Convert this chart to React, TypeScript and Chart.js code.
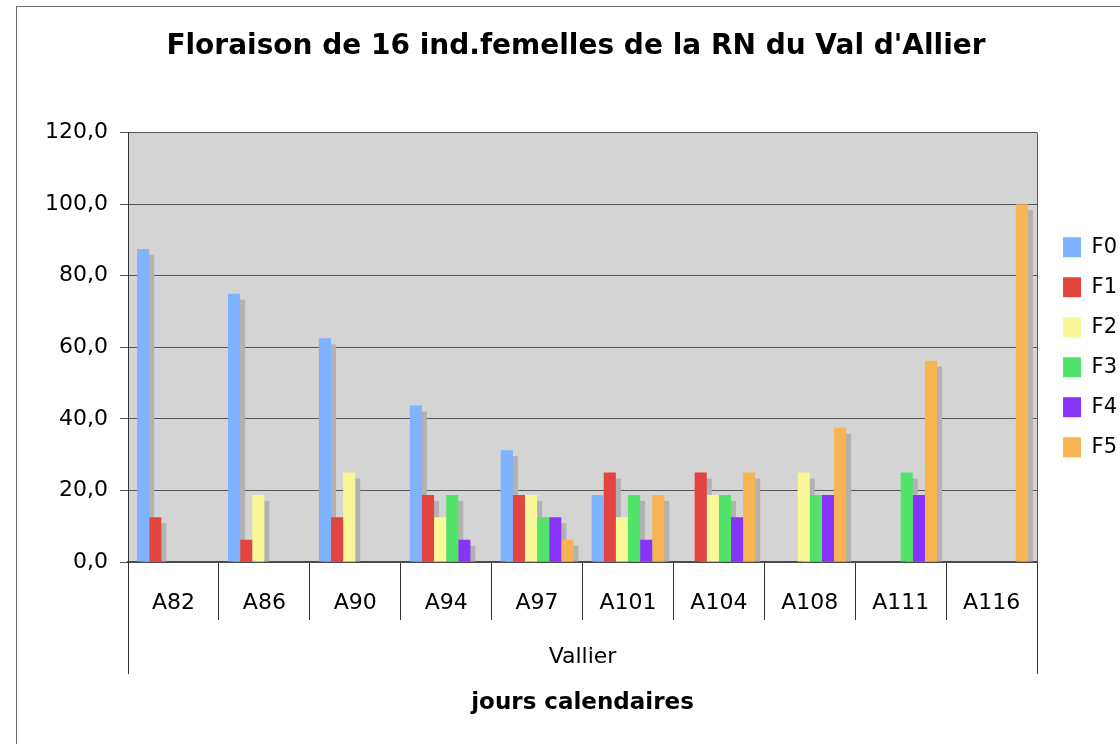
import React, { useEffect, useRef } from "react";
import { Chart, registerables } from "chart.js";

Chart.register(...registerables);

const categories = ["A82", "A86", "A90", "A94", "A97", "A101", "A104", "A108", "A111", "A116"];
const seriesNames = ["F0", "F1", "F2", "F3", "F4", "F5"];
const F0 = [87.5, 75, 62.5, 43.75, 31.25, 18.75, 0, 0, 0, 0];
const F1 = [12.5, 6.25, 12.5, 18.75, 18.75, 25, 25, 0, 0, 0];
const F2 = [0, 18.75, 25, 12.5, 18.75, 12.5, 18.75, 25, 0, 0];
const F3 = [0, 0, 0, 18.75, 12.5, 18.75, 18.75, 18.75, 25, 0];
const F4 = [0, 0, 0, 6.25, 12.5, 6.25, 12.5, 18.75, 18.75, 0];
const F5 = [0, 0, 0, 0, 6.25, 18.75, 25, 37.5, 56.25, 100];
const seriesValues = [F0, F1, F2, F3, F4, F5];
const seriesColors = ["#7fb2ff", "#e2453f", "#f8f899", "#52e46a", "#8733f8", "#f8b452"];
const yMin = 0;
const yMax = 120;
const yStep = 20;
const chartTitle = "Floraison de 16 ind.femelles de la RN du Val d'Allier";
const groupLabel = "Vallier";
const xAxisTitle = "jours calendaires";

const FONT = "'DejaVu Sans', Verdana, sans-serif";

const decorPlugin = {
  id: "decor",
  afterLayout(chart: any) {
    const lg = chart.legend;
    if (lg) {
      lg.left += 7;
      lg.right += 7;
    }
  },
  beforeDraw(chart: any) {
    const { ctx, chartArea: a } = chart;
    ctx.save();
    ctx.fillStyle = "#ffffff";
    ctx.fillRect(0, 0, chart.width, chart.height);
    ctx.strokeStyle = "#6e6e6e";
    ctx.lineWidth = 1;
    ctx.strokeRect(16.5, 6.5, chart.width + 50, chart.height + 50);
    ctx.fillStyle = "#d4d4d4";
    ctx.fillRect(a.left, a.top, a.right - a.left, a.bottom - a.top);
    ctx.restore();
  },
  beforeDatasetsDraw(chart: any) {
    const { ctx, chartArea: a } = chart;
    ctx.save();
    ctx.beginPath();
    ctx.rect(a.left, a.top, a.right - a.left, a.bottom - a.top);
    ctx.clip();
    ctx.fillStyle = "#b2b2b2";
    chart.data.datasets.forEach((ds: any, i: number) => {
      const meta = chart.getDatasetMeta(i);
      meta.data.forEach((bar: any, j: number) => {
        const v = ds.data[j];
        if (!v) return;
        const p = bar.getProps(["x", "y", "base", "width"], true);
        const top = p.y + 6;
        ctx.fillRect(p.x - p.width / 2 + 5, top, p.width, p.base - top);
      });
    });
    ctx.restore();
  },
  afterDraw(chart: any) {
    const { ctx, chartArea: a } = chart;
    ctx.save();
    ctx.strokeStyle = "#5a5a5a";
    ctx.lineWidth = 1;
    ctx.beginPath();
    ctx.moveTo(Math.round(a.right) + 0.5, a.top);
    ctx.lineTo(Math.round(a.right) + 0.5, a.bottom);
    ctx.stroke();
    ctx.strokeStyle = "#333333";
    ctx.beginPath();
    ctx.moveTo(Math.round(a.left) + 0.5, a.bottom + 58);
    ctx.lineTo(Math.round(a.left) + 0.5, a.bottom + 112);
    ctx.moveTo(Math.round(a.right) + 0.5, a.bottom + 58);
    ctx.lineTo(Math.round(a.right) + 0.5, a.bottom + 112);
    ctx.stroke();
    ctx.fillStyle = "#000000";
    ctx.font = `22px ${FONT}`;
    ctx.textAlign = "center";
    ctx.textBaseline = "middle";
    ctx.fillText(groupLabel, (a.left + a.right) / 2, a.bottom + 95);
    ctx.restore();
  },
};

export default function App() {
  const canvasRef = useRef<HTMLCanvasElement | null>(null);

  useEffect(() => {
    const canvas = canvasRef.current;
    if (!canvas) return;
    const chart = new Chart(canvas, {
      type: "bar",
      data: {
        labels: categories,
        datasets: seriesNames.map((name, i) => ({
          label: name,
          data: seriesValues[i],
          backgroundColor: seriesColors[i],
          borderWidth: 0,
          categoryPercentage: 0.8,
          barPercentage: 1,
        })),
      },
      options: {
        responsive: false,
        animation: false,
        devicePixelRatio: 1,
        layout: { padding: { left: 32, right: 0, top: 0, bottom: 0 } },
        plugins: {
          title: {
            display: true,
            text: chartTitle,
            color: "#000000",
            font: { family: FONT, size: 28, weight: "bold" },
            padding: { top: 30, bottom: 69 },
          },
          legend: {
            position: "right",
            fullSize: false,
            labels: {
              color: "#000000",
              font: { family: FONT, size: 21 },
              boxWidth: 18,
              boxHeight: 20,
              padding: 19,
            },
          },
          tooltip: { enabled: false },
        },
        scales: {
          x: {
            offset: true,
            grid: {
              offset: true,
              drawOnChartArea: false,
              drawTicks: true,
              tickLength: 58,
              color: "#333333",
              lineWidth: 1,
            },
            border: { display: true, color: "#4a4a4a", width: 2 },
            ticks: {
              color: "#000000",
              font: { family: FONT, size: 22 },
              padding: -30,
              maxRotation: 0,
              autoSkip: false,
            },
            title: {
              display: true,
              text: xAxisTitle,
              color: "#000000",
              font: { family: FONT, size: 23, weight: "bold" },
              padding: { top: 0, bottom: 27 },
            },
            afterFit: (s: any) => {
              s.height = 182;
            },
          },
          y: {
            min: yMin,
            max: yMax,
            ticks: {
              stepSize: yStep,
              color: "#000000",
              font: { family: FONT, size: 22 },
              padding: 12,
              callback: (v: any) => Number(v).toFixed(1).replace(".", ","),
            },
            grid: {
              color: "#555555",
              lineWidth: 1,
              drawTicks: true,
              tickLength: 8,
            },
            border: { display: true, color: "#333333", width: 1 },
            afterFit: (s: any) => {
              s.width = 96;
            },
          },
        },
      },
      plugins: [decorPlugin],
    });
    return () => chart.destroy();
  }, []);

  return (
    <div style={{ position: "fixed", left: 0, top: 0, width: 1120, height: 744, background: "#fff" }}>
      <canvas ref={canvasRef} width={1120} height={744} />
    </div>
  );
}
